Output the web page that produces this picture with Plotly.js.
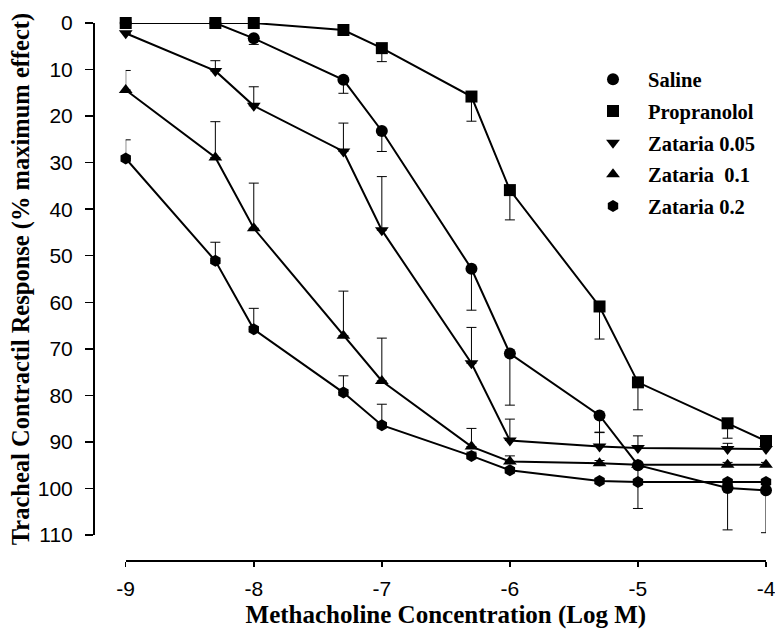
<!DOCTYPE html>
<html>
<head>
<meta charset="utf-8">
<script src="https://cdn.plot.ly/plotly-3.0.1.min.js"></script>
<style>html,body{margin:0;padding:0;background:#fff;}#chart{width:775px;height:640px;}</style>
</head>
<body>
<div id="chart"></div>
<script>
var logConc = [-9, -8.3, -8, -7.3, -7, -6.3, -6, -5.3, -5, -4.3, -4];
var tickVals = [-9, -8, -7, -6, -5, -4];
var tickText = ['-9', '-8', '-7', '-6', '-5', '-4'];
var yTickVals = [0, 10, 20, 30, 40, 50, 60, 70, 80, 90, 100, 110];

var saline = [0, 0, 3.3, 12.2, 23.2, 52.8, 71.0, 84.3, 95.0, 99.9, 100.4];
var salineErr = [0, 0, 1.3, 2.9, 4.4, 8.9, 11.1, 3.6, 9.3, 9.0, 9.1];

var propranolol = [0, 0, 0, 1.5, 5.4, 15.8, 35.9, 60.9, 77.2, 86.0, 89.8];
var propranololErr = [0, 0, 0, 0, 2.9, 5.3, 6.4, 7.0, 5.9, 3.2, 1.0];

var zat005 = [2.2, 10.3, 17.8, 27.6, 44.5, 73.1, 89.7, 91.0, 91.3, 91.5, 91.5];
var zat005Err = [0, 2.2, 4.1, 6.1, 11.5, 7.7, 4.6, 3.0, 2.6, 1.2, 0.8];

var zat01 = [14.4, 28.9, 44.1, 67.2, 76.9, 91.0, 94.2, 94.6, 94.9, 94.9, 94.9];
var zat01Err = [4.2, 7.7, 9.7, 9.6, 9.2, 3.9, 1.2, 0.6, 0.5, 0.5, 0.5];

var zat02 = [29.1, 51.1, 65.8, 79.4, 86.4, 93.0, 96.1, 98.4, 98.6, 98.6, 98.6];
var zat02Err = [4.0, 4.0, 4.5, 3.6, 4.5, 0.8, 0.6, 0.4, 0.4, 0.4, 0.4];

var seriesNames = ['Saline', 'Propranolol', 'Zataria 0.05', 'Zataria  0.1', 'Zataria 0.2'];
var symbols = ['circle', 'square', 'triangle-down', 'triangle-up', 'hexagon'];

function zeros(n){ var a=[]; for (var i=0;i<n;i++) a.push(0); return a; }

var lineTraces = [];
var markerTraces = [];
function mk(idx, y, err, down) {
  var e = {type:'data', symmetric:false, color:'#000', thickness:1, width:5, visible:true};
  if (down) { e.array = err; e.arrayminus = zeros(err.length); }
  else { e.array = zeros(err.length); e.arrayminus = err; }
  lineTraces.push({
    type:'scatter', mode:'lines', name:seriesNames[idx], x:logConc, y:y,
    showlegend:false, line:{color:'#000', width:2}, hoverinfo:'skip'
  });
  markerTraces.push({
    type:'scatter', mode:'markers', name:seriesNames[idx], x:logConc, y:y,
    legendgroup:'g'+idx,
    marker:{symbol:symbols[idx], size:12, color:'#000', line:{width:0}},
    error_y:e, cliponaxis:false
  });
}
mk(0, saline, salineErr, true);
mk(1, propranolol, propranololErr, true);
mk(2, zat005, zat005Err, false);
mk(3, zat01, zat01Err, false);
mk(4, zat02, zat02Err, false);

var data = lineTraces.concat(markerTraces);

var layout = {
  width:775, height:640,
  margin:{l:94, r:9, t:23, b:79},
  paper_bgcolor:'#fff', plot_bgcolor:'#fff',
  showlegend:true,
  legend:{
    x:(578-94)/672, xanchor:'left', y:1-(59.5-23)/538, yanchor:'top',
    font:{family:'Liberation Serif, Times New Roman, serif', size:20.5, color:'#000', weight:'bold'},
    itemwidth:60, tracegroupgap:2, bgcolor:'rgba(0,0,0,0)', borderwidth:0
  },
  xaxis:{
    range:[-9, -4], domain:[0.0472, 1], anchor:'free', position:0,
    tickmode:'array', tickvals:tickVals, ticktext:tickText,
    ticks:'outside', ticklen:5, tickwidth:1.5, tickcolor:'#000', ticklabelstandoff:4,
    ticklabeloverflow:'allow',
    showline:true, linecolor:'#000', linewidth:2, showgrid:false, zeroline:false,
    tickfont:{family:'Liberation Sans, Arial, sans-serif', size:21, color:'#000'},
    title:{text:'<b>Methacholine Concentration (Log M)</b>', standoff:5,
      font:{family:'Liberation Serif, Times New Roman, serif', size:25, color:'#000'}},
    automargin:false, fixedrange:true
  },
  yaxis:{
    range:[110, 0], domain:[0.0483, 1], anchor:'free', position:0,
    tickmode:'array', tickvals:yTickVals,
    ticks:'outside', ticklen:8, tickwidth:1.5, tickcolor:'#000', ticklabelstandoff:8,
    ticklabeloverflow:'allow',
    showline:true, linecolor:'#000', linewidth:2, showgrid:false, zeroline:false,
    tickfont:{family:'Liberation Sans, Arial, sans-serif', size:21, color:'#000'},
    title:{text:'<b>Tracheal Contractil Response (% maximum effect)</b>', standoff:0,
      font:{family:'Liberation Serif, Times New Roman, serif', size:24.5, color:'#000'}},
    automargin:false, fixedrange:true
  }
};

Plotly.newPlot('chart', data, layout, {displayModeBar:false, staticPlot:true});
</script>
</body>
</html>
